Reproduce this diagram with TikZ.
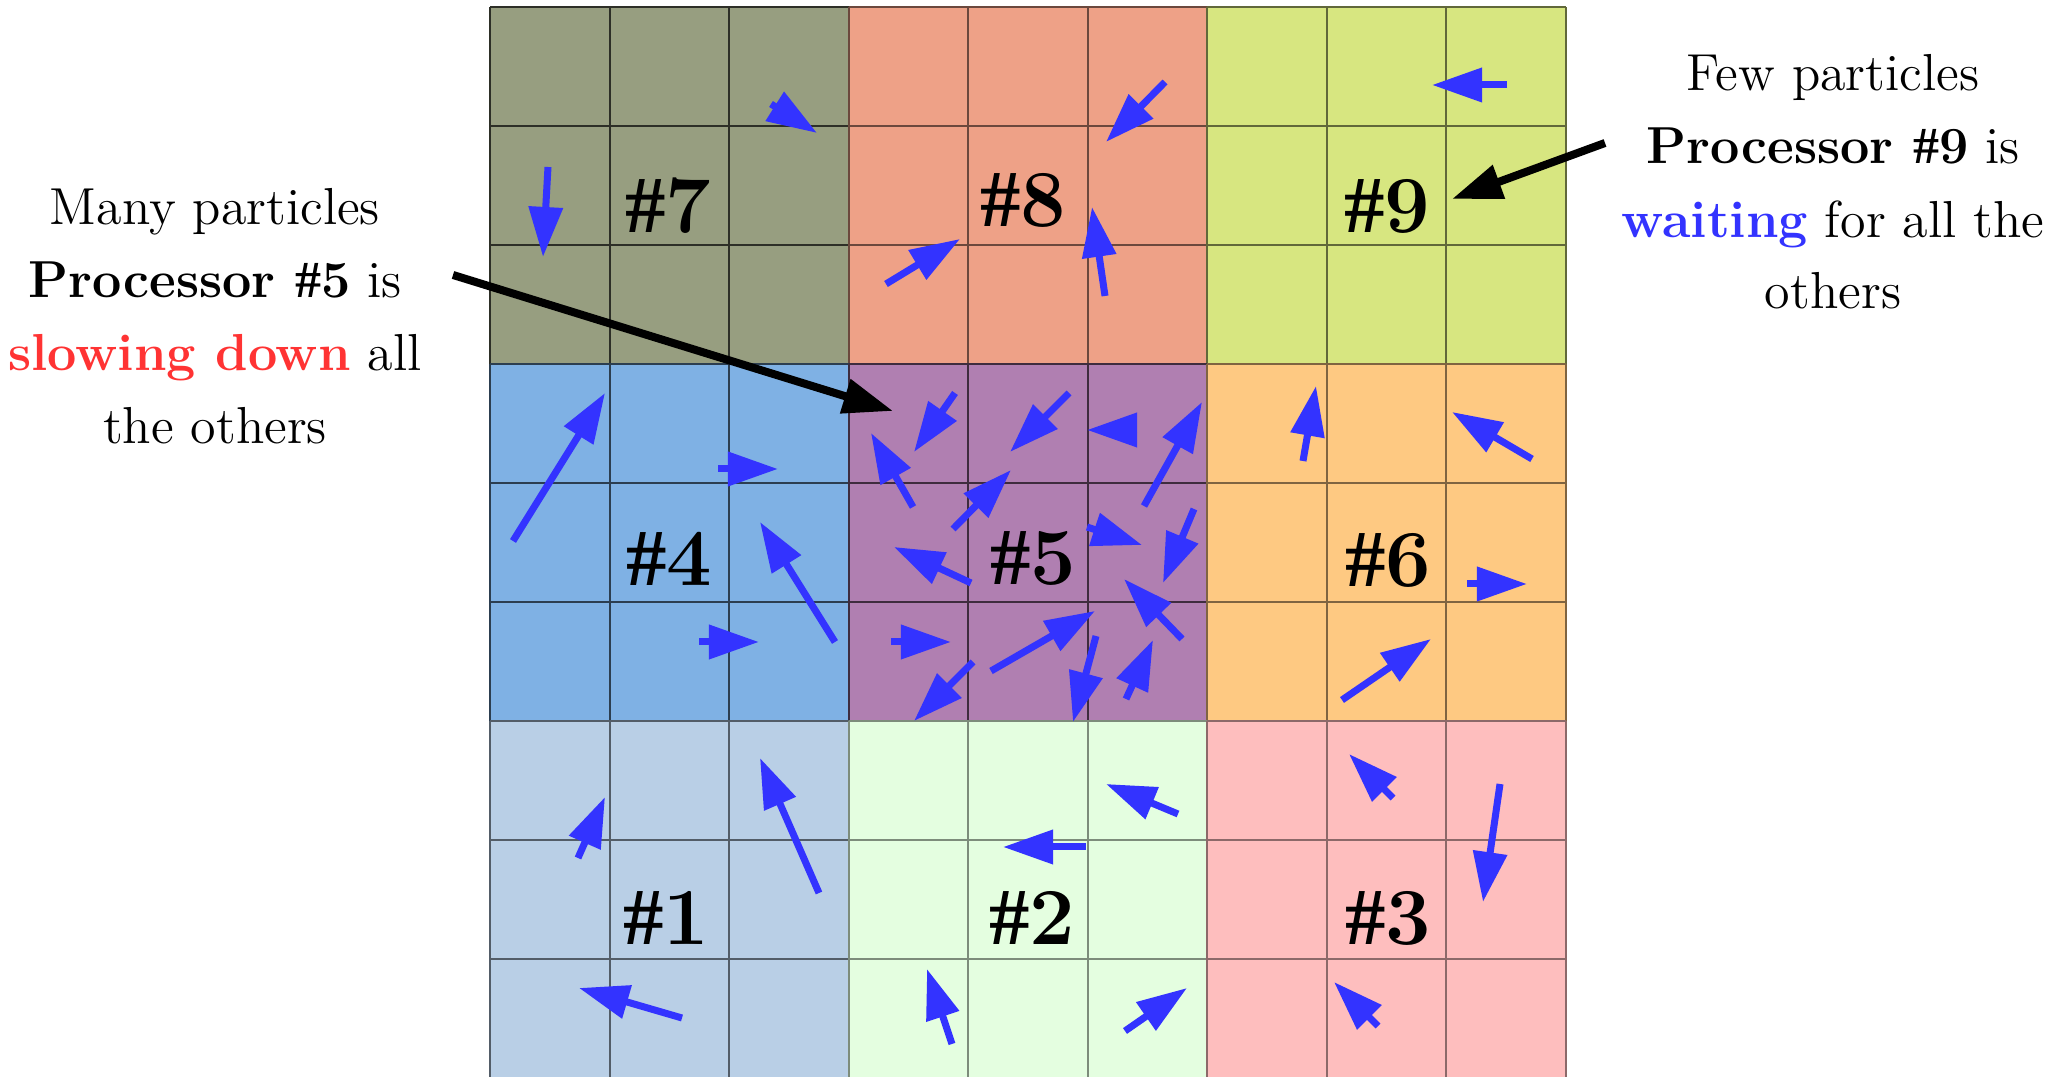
\documentclass[tikz,border=0pt]{standalone}
\usepackage{graphicx}
\usepackage{fontspec}
\newfontfamily\hashfont{Liberation Serif}
\usetikzlibrary{arrows.meta}
\definecolor{pblue}{RGB}{51,51,255}
\definecolor{pred}{RGB}{255,51,51}
\definecolor{cSeven}{RGB}{151,158,128}
\definecolor{cEight}{RGB}{238,161,135}
\definecolor{cNine}{RGB}{215,230,128}
\definecolor{cFour}{RGB}{127,177,228}
\definecolor{cFive}{RGB}{176,127,177}
\definecolor{cSix}{RGB}{254,201,130}
\definecolor{cOne}{RGB}{185,207,230}
\definecolor{cTwo}{RGB}{228,254,224}
\definecolor{cThree}{RGB}{254,190,190}
\newcommand{\hsh}{{\hashfont\bfseries\#}}
\newcommand{\procblock}[4]{%
  \fill[#3] ({490+#1*358.65},{7.3+#2*357}) rectangle ({490+(#1+1)*358.65},{7.3+(#2+1)*357});
  \foreach \k in {0,1,2,3}{%
    \draw[#4,line width=0.6pt] ({490+(#1+\k/3)*358.65},{7.3+#2*357}) -- ({490+(#1+\k/3)*358.65},{7.3+(#2+1)*357});
    \draw[#4,line width=0.6pt] ({490+#1*358.65},{7.3+(#2+\k/3)*357}) -- ({490+(#1+1)*358.65},{7.3+(#2+\k/3)*357});
  }%
}
\begin{document}
\begin{tikzpicture}[x=0.01cm,y=-0.01cm,
  part/.style={draw=pblue, line width=0.07cm, -{Triangle[length=0.5cm,width=0.33cm]}},
  callout/.style={draw=black, line width=0.08cm, -{Triangle[length=0.5cm,width=0.34cm]}},
  lab/.style={font=\fontsize{23}{28}\selectfont\bfseries, anchor=base, inner sep=0pt},
  txt/.style={font=\fontsize{14.8}{20}\selectfont, anchor=base, inner sep=0pt}]
\useasboundingbox (0,0) rectangle (2051,1077);
\clip (0,0) rectangle (2051,1077);
% blocks
\procblock{0}{0}{cSeven}{cSeven!30!black}
\procblock{1}{0}{cEight}{cEight!45!black}
\procblock{2}{0}{cNine}{cNine!45!black}
\procblock{0}{1}{cFour}{cFour!35!black}
\procblock{1}{1}{cFive}{cFive!35!black}
\procblock{2}{1}{cSix}{cSix!50!black}
\procblock{0}{2}{cOne}{cOne!45!black}
\procblock{1}{2}{cTwo}{cTwo!55!black}
\procblock{2}{2}{cThree}{cThree!55!black}
% labels
\node[lab] (n7) at (668,233) {\hsh7};
\node[lab] (n8) at (1023,227) {\hsh8};
\node[lab] (n9) at (1387,233) {\hsh9};
\node[lab] (n4) at (669,586) {\hsh4};
\node[lab] (n5) at (1033,585) {\hsh5};
\node[lab] (n6) at (1388,587) {\hsh6};
\node[lab] (n1) at (666,945) {\hsh1};
\node[lab] (n2) at (1032,945) {\hsh2};
\node[lab] (n3) at (1388,945) {\hsh3};
% particles
% block 7
\draw[part] (548,167) -- (543,257);
\draw[part] (771,104) -- (817,133);
% block 8
\draw[part] (1165,82) -- (1106,142);
\draw[part] (886,284) -- (960,239);
\draw[part] (1105,296) -- (1092,207);
% block 9
\draw[part] (1507,85) -- (1432,85);
% block 4
\draw[part] (513,541) -- (605,393);
\draw[part] (718,469) -- (778,469);
\draw[part] (835,642) -- (760,522);
\draw[part] (699,642) -- (759,642);
% block 5
\draw[part] (955,393) -- (914,452);
\draw[part] (1069,393) -- (1010,452);
\draw[part] (1137,430) -- (1087,430);
\draw[part] (1144,506) -- (1202,402);
\draw[part] (913,507) -- (871,433);
\draw[part] (953,529) -- (1011,470);
\draw[part] (1087,527) -- (1142,545);
\draw[part] (1194,509) -- (1163,583);
\draw[part] (971,583) -- (894,547);
\draw[part] (1182,639) -- (1124,579);
\draw[part] (891,642) -- (951,642);
\draw[part] (991,671) -- (1095,611);
\draw[part] (973,662) -- (914,721);
\draw[part] (1096,636) -- (1073,722);
\draw[part] (1126,699) -- (1153,640);
% block 6
\draw[part] (1303,461) -- (1316,386);
\draw[part] (1532,459) -- (1452,412);
\draw[part] (1467,584) -- (1527,584);
\draw[part] (1342,700) -- (1431,639);
% block 1
\draw[part] (578,858) -- (605,797);
\draw[part] (819,893) -- (760,758);
\draw[part] (682,1018) -- (579,988);
% block 2
\draw[part] (1178,814) -- (1106,784);
\draw[part] (1086,847) -- (1003,847);
\draw[part] (952,1044) -- (927,969);
\draw[part] (1125,1031) -- (1187,988);
% block 3
\draw[part] (1393,798) -- (1349,754);
\draw[part] (1500,784) -- (1483,902);
\draw[part] (1378,1026) -- (1334,982);
% texts
\node[txt] (l1) at (215,225) {Many particles};
\node[txt] (l2) at (215,298) {\textbf{Processor \hsh5} is};
\node[txt] (l3) at (215,371) {\textcolor{pred}{\textbf{slowing down}} all};
\node[txt] (l4) at (215,444) {the others};
\node[txt] (r1) at (1833,91) {Few particles};
\node[txt] (r2) at (1833,164) {\textbf{Processor \hsh9} is};
\node[txt] (r3) at (1833,238) {\textcolor{pblue}{\textbf{waiting}} for all the};
\node[txt] (r4) at (1833,309) {others};
% callouts
\coordinate (a5) at (453,275);
\coordinate (t5) at (893,411);
\coordinate (a9) at (1605,143);
\coordinate (t9) at (1452,199);
\draw[callout] (a5) -- (t5);
\draw[callout] (a9) -- (t9);
\end{tikzpicture}
\end{document}
